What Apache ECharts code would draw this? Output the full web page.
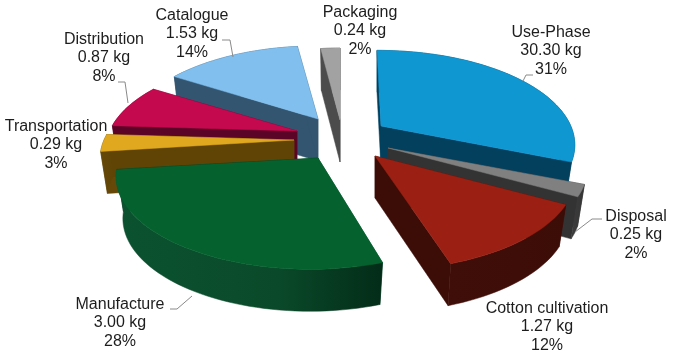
<!DOCTYPE html>
<html><head><meta charset="utf-8">
<style>html,body{margin:0;padding:0;background:#fff}#c{width:684px;height:364px}</style>
<script src="https://cdn.jsdelivr.net/npm/echarts@6/dist/echarts.min.js"></script>
</head><body><div id="c"></div>
<script>
// data
const names  = ['Use-Phase','Disposal','Cotton cultivation','Manufacture','Transportation','Distribution','Catalogue','Packaging'];
const masses = ['30.30 kg','0.25 kg','1.27 kg','3.00 kg','0.29 kg','0.87 kg','1.53 kg','0.24 kg'];
const shares = [31,2,12,28,3,8,14,2];

// layout / style (separate from the data)
const apexX  = [381,388,375,318,294,297,318,340];
const apexY  = [126,148,156,158,140,131,119,120];
const arcDX  = [-4,0,1,-8,0,-3,-1,0];
const scale  = [1.02,1.03,1.03,1,1,0.97,0.985,0.97];
const paint  = [5,6,7,4,3,2,1,0];
const topCol = ['#0f97d2','#808080','#9b2013','#05622f','#e0a81e','#c5094f','#80bfee','#a2a2a2'];
const wallA  = ['#03405e','#3c3c3c','#400e08','#0b5230','#664908','#5c0428','#33556f','#4c4c4c'];
const wallM  = ['#03405e','#383838','#3e0d08','#0a4a2a','#624607','#5c0428','#33556f','#4c4c4c'];
const wallB  = ['#03405e','#333333','#3c0c07','#032c18','#5f4406','#5c0428','#33556f','#4c4c4c'];
const labelX = [551,636,547,120,56,104,192,360];
const labelY = [51,235,327,323,145,58,34,31];
const leaders = [
  [[533,75],[526,75],[523,81]], [[602,219],[592,219],[575,232]], null,
  [[170,309],[177,309],[192,296]], null,
  [[118,82],[125,82],[128,103]], [[222,40],[230,40],[233,57]], null
];
const RX=190, RY=89, K=0.2, DEPTH=42, TAPER=0.965;

const total = shares.reduce((a,b)=>a+b,0);
function project(i,deg){
  const t=deg*Math.PI/180, u=Math.sin(t), v=-Math.cos(t), s=1/(1-K*v);
  return [RX*scale[i]*u*s, RY*scale[i]*v*s];
}
const top3 = (i,p)=>[apexX[i]+arcDX[i]+p[0], apexY[i]+p[1]];
const bot3 = (i,p)=>[apexX[i]+arcDX[i]+p[0]*TAPER, apexY[i]+p[1]+DEPTH];

function sliceChildren(i,a0,a1){
  const ps=[]; const n=Math.max(2,Math.ceil((a1-a0)/2));
  for(let j=0;j<=n;j++) ps.push(project(i,a0+(a1-a0)*j/n));
  const tops=ps.map(p=>top3(i,p)), bots=ps.map(p=>bot3(i,p));
  const apexT=[apexX[i],apexY[i]], apexB=[apexX[i],apexY[i]+DEPTH];
  const z=paint[i]*10;
  const poly=(points,fill,dz)=>({type:'polygon',z2:z+dz,shape:{points},style:{fill,stroke:fill,lineWidth:0.5}});
  const grad=new echarts.graphic.LinearGradient(0,0,1,0,[{offset:0,color:wallA[i]},{offset:0.6,color:wallM[i]},{offset:1,color:wallB[i]}]);
  return [
    poly([apexT,tops[0],bots[0],apexB],wallA[i],1),
    poly([apexT,tops[n],bots[n],apexB],wallB[i],1),
    poly(tops.concat(bots.slice().reverse()),grad,2),
    poly([apexT].concat(tops),topCol[i],3)
  ];
}

let acc=0;
const spans=shares.map(v=>{const a=acc; acc+=v; return [a/total*360,acc/total*360];});

const chart=echarts.init(document.getElementById('c'),null,{renderer:'canvas'});
chart.setOption({
  animation:false,
  backgroundColor:'#fff',
  series:[{
    type:'custom',
    coordinateSystem:'none',
    data:shares.map((v,i)=>({name:names[i],value:[i,v]})),
    renderItem:function(params,api){
      const i=api.value(0);
      const kids=sliceChildren(i,spans[i][0],spans[i][1]);
      if(leaders[i]) kids.push({type:'polyline',z2:200,shape:{points:leaders[i]},style:{fill:'none',stroke:'#8a8a8a',lineWidth:1}});
      kids.push({type:'text',z2:210,style:{
        x:labelX[i],y:labelY[i],
        text:names[i]+'\n'+masses[i]+'\n'+api.value(1)+'%',
        textAlign:'center',textVerticalAlign:'middle',
        font:'16px "Liberation Sans", Arial, sans-serif',lineHeight:18.7,fill:'#1d1d1d'
      }});
      return {type:'group',children:kids};
    }
  }]
});
</script></body></html>
